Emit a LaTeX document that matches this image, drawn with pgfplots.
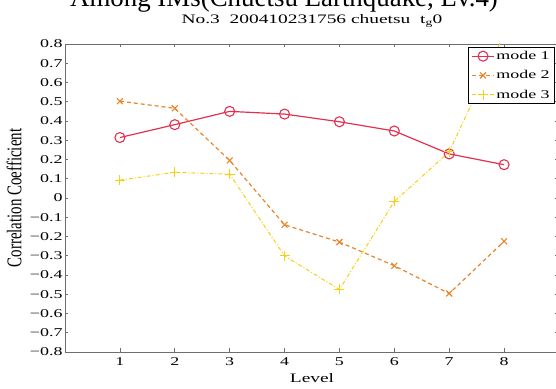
\documentclass[border=0pt]{standalone}
\usepackage{fontspec}
\setmainfont{Liberation Serif}[FakeStretch=1.5]
\newfontfamily\plainserif{Liberation Serif}
\usepackage{graphicx}
\usepackage{pgfplots}
\pgfplotsset{compat=1.18}
\definecolor{mA}{RGB}{226,48,82}
\definecolor{mB}{RGB}{232,132,42}
\definecolor{mC}{RGB}{246,208,20}
\definecolor{framec}{RGB}{110,110,110}
\begin{document}
\begin{tikzpicture}
\begin{axis}[
  scale only axis, width=494bp, height=308bp,
  xmin=0, xmax=9, ymin=-0.8, ymax=0.8,
  xtick={1,2,3,4,5,6,7,8},
  xticklabels={1,2,3,4,5,6,7,8},
  ytick={-0.8,-0.7,-0.6,-0.5,-0.4,-0.3,-0.2,-0.1,0,0.1,0.2,0.3,0.4,0.5,0.6,0.7,0.8},
  yticklabels={−0.8,−0.7,−0.6,−0.5,−0.4,−0.3,−0.2,−0.1,0,0.1,0.2,0.3,0.4,0.5,0.6,0.7,0.8},
  tick align=inside, major tick length=3.5bp,
  axis line style={framec, line width=0.8pt},
  tick style={framec, line width=0.6pt},
  tick label style={font=\fontsize{12}{12}\selectfont, text=black},
  yticklabel style={xshift=1bp},
  xticklabel style={yshift=-2bp},
  xlabel={Level},
  xlabel style={font=\fontsize{13}{13}\selectfont, at={(axis description cs:0.5,0)}, anchor=base, yshift=-30bp},
  ylabel={\scalebox{1}[1.4]{\plainserif Correlation Coefficient}},
  ylabel style={font=\fontsize{15}{15}\selectfont, at={(axis description cs:0,0.5)}, anchor=center, yshift=51bp},
  legend style={at={(1,1)}, anchor=north east, xshift=-4bp, yshift=-3bp,
    draw=black, line width=0.6pt, font=\fontsize{12}{12}\selectfont,
    inner xsep=3bp, inner ysep=2bp, row sep=5.5bp, legend cell align=left},
  legend image code/.code={\draw[mark repeat=2,mark phase=2] plot coordinates {(0cm,0cm)(0.38cm,0cm)(0.76cm,0cm)};},
]
\addplot[mA, line width=1.2pt, mark=o, mark size=5bp, mark options={solid, line width=1.1pt}]
  coordinates {(1,0.314)(2,0.381)(3,0.450)(4,0.436)(5,0.396)(6,0.348)(7,0.229)(8,0.173)};
\addlegendentry{mode 1}
\addplot[mB, line width=1.2pt, dash pattern=on 4bp off 3bp, mark=x, mark size=4.2bp, mark options={solid, line width=1.1pt}]
  coordinates {(1,0.503)(2,0.466)(3,0.195)(4,-0.139)(5,-0.229)(6,-0.352)(7,-0.496)(8,-0.225)};
\addlegendentry{mode 2}
\addplot[mC, line width=1pt, dash pattern=on 4bp off 2bp on 1bp off 2bp, mark=+, mark size=5bp, mark options={solid}]
  coordinates {(1,0.093)(2,0.133)(3,0.124)(4,-0.301)(5,-0.475)(6,-0.018)(7,0.240)(8,0.850)};
\addlegendentry{mode 3}
\end{axis}
\node[anchor=base, font=\fontsize{13}{13}\selectfont] at (247bp,328.5bp) {No.3\ \ 200410231756 chuetsu\ \ t$_{\mathrm{g}}$\,0};
\node[anchor=base, font=\fontsize{27}{27}\selectfont\plainserif] at (219bp,345.5bp) {Among IMs(Chuetsu Earthquake, Lv.4)};
\pgfresetboundingbox
\path[use as bounding box] (-65bp,-37bp) rectangle (491bp,352bp);
\end{tikzpicture}
\end{document}
